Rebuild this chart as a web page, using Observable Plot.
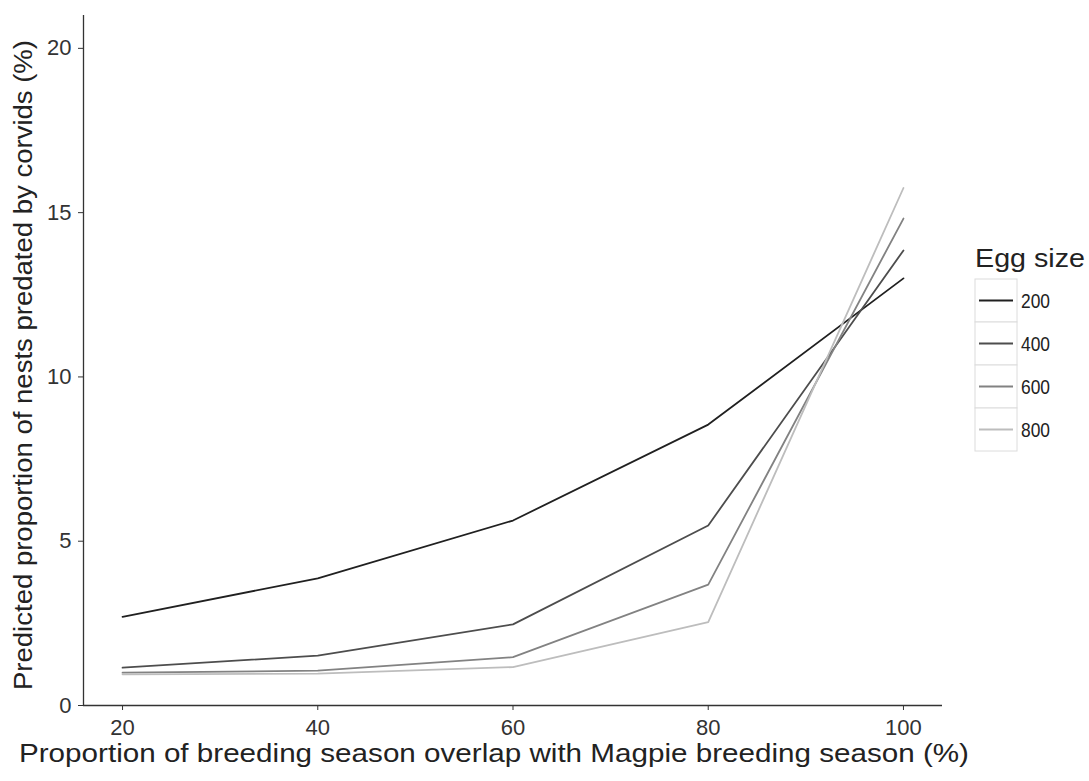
<!DOCTYPE html>
<html>
<head>
<meta charset="utf-8">
<script src="https://cdn.jsdelivr.net/npm/d3@7"></script>
<script src="https://cdn.jsdelivr.net/npm/@observablehq/plot@0.6"></script>
<style>
  html, body { margin: 0; padding: 0; background: #fff; }
  #chart { width: 1089px; height: 781px; }
</style>
</head>
<body>
<div id="chart"></div>
<script>
// ---- data ----
const overlap = [20, 40, 60, 80, 100];
const eggSizes = ["200", "400", "600", "800"];
const pred200 = [2.7, 3.87, 5.63, 8.55, 13.0];
const pred400 = [1.15, 1.52, 2.47, 5.48, 13.85];
const pred600 = [1.0, 1.06, 1.47, 3.68, 14.82];
const pred800 = [0.95, 0.97, 1.17, 2.54, 15.75];
const greys = ["#202020", "#4d4d4d", "#828282", "#bdbdbd"];
const xTicks = [20, 40, 60, 80, 100];
const yTicks = [0, 5, 10, 15, 20];
const xTitle = "Proportion of breeding season overlap with Magpie breeding season (%)";
const yTitle = "Predicted proportion of nests predated by corvids (%)";
const legendTitle = "Egg size";

const seriesValues = [pred200, pred400, pred600, pred800];
const rows = [];
eggSizes.forEach((s, i) => overlap.forEach((x, j) => rows.push({size: s, x, y: seriesValues[i][j]})));

const font = "'Liberation Sans', Arial, sans-serif";

const plot = Plot.plot({
  width: 1089,
  height: 781,
  marginLeft: 83,
  marginRight: 147,
  marginTop: 15,
  marginBottom: 76,
  style: {fontFamily: font, background: "#fff", color: "#333"},
  x: {domain: [16, 104]},
  y: {domain: [0, 21]},
  color: {domain: eggSizes, range: greys},
  marks: [
    Plot.axisX({ticks: xTicks, tickSize: 5, tickPadding: 9, fontSize: 22, label: null, color: "#333", tickFormat: d3.format("d")}),
    Plot.axisY({ticks: yTicks, tickSize: 5, tickPadding: 7, fontSize: 22, label: null, color: "#333", tickFormat: d3.format("d")}),
    Plot.ruleY([0], {stroke: "#333", strokeWidth: 1.3}),
    Plot.ruleX([16], {stroke: "#333", strokeWidth: 1.3}),
    Plot.line(rows, {x: "x", y: "y", z: "size", stroke: "size", strokeWidth: 1.8})
  ]
});

const svg = d3.select(plot);

// axis titles
svg.append("text")
  .attr("x", 494).attr("y", 753).attr("dy", "0.35em")
  .attr("text-anchor", "middle").attr("font-family", font).attr("font-size", 26)
  .attr("fill", "#222").attr("textLength", 950).attr("lengthAdjust", "spacingAndGlyphs")
  .text(xTitle);
svg.append("text")
  .attr("transform", "translate(23,365) rotate(-90)").attr("dy", "0.35em")
  .attr("text-anchor", "middle").attr("font-family", font).attr("font-size", 25)
  .attr("fill", "#222").attr("textLength", 650).attr("lengthAdjust", "spacingAndGlyphs")
  .text(yTitle);

// legend (ggplot-style) drawn into the same SVG
const color = plot.scale("color");
const lg = svg.append("g").attr("font-family", font).attr("text-anchor", "start");
const lx = 975, ly = 279, kw = 42, kh = 43;
lg.append("text").attr("x", lx).attr("y", ly - 12).attr("font-size", 26).attr("fill", "#222")
  .attr("textLength", 110).attr("lengthAdjust", "spacingAndGlyphs").text(legendTitle);
eggSizes.forEach((s, i) => {
  const y0 = ly + i * kh;
  lg.append("rect").attr("x", lx).attr("y", y0).attr("width", kw).attr("height", kh)
    .attr("fill", "#fff").attr("stroke", "#dcdcdc").attr("stroke-width", 1);
  lg.append("line").attr("x1", lx + 4).attr("x2", lx + kw - 4).attr("y1", y0 + kh / 2).attr("y2", y0 + kh / 2)
    .attr("stroke", color.apply(s)).attr("stroke-width", 1.8);
  lg.append("text").attr("x", lx + kw + 4).attr("y", y0 + kh / 2).attr("dy", "0.35em")
    .attr("font-size", 20).attr("fill", "#222").attr("textLength", 29).attr("lengthAdjust", "spacingAndGlyphs").text(s);
});

document.getElementById("chart").appendChild(plot);
</script>
</body>
</html>
